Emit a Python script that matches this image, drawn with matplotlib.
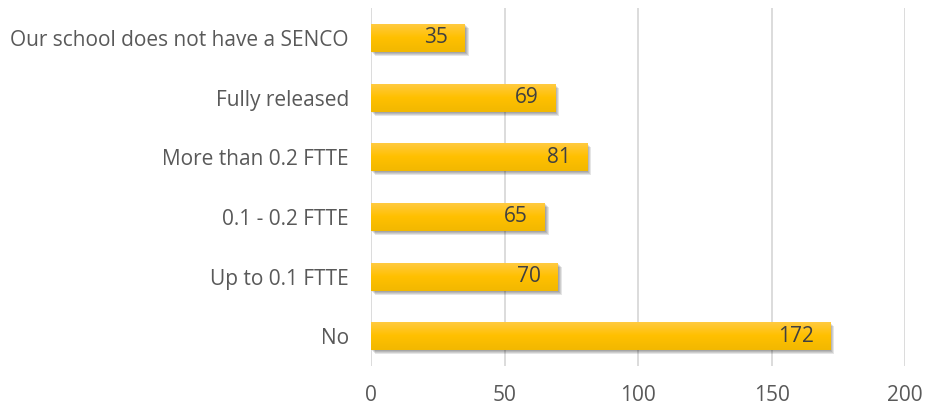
import matplotlib
matplotlib.use("Agg")
import matplotlib.pyplot as plt
import matplotlib.patheffects as pe
import numpy as np
from matplotlib.colors import LinearSegmentedColormap

categories = ["No", "Up to 0.1 FTTE", "0.1 - 0.2 FTTE", "More than 0.2 FTTE",
              "Fully released", "Our school does not have a SENCO"]
values = [172, 70, 65, 81, 69, 35]
xticks = [0, 50, 100, 150, 200]

plt.rcParams['font.family'] = ['Open Sans', 'DejaVu Sans']

fig = plt.figure(figsize=(9.29, 4.08), dpi=100)
ax = fig.add_axes([0.3994, 0.103, 0.5748, 0.877])

y = np.arange(len(categories))
shadows = [pe.SimplePatchShadow(offset=(o, -o), alpha=0.10, shadow_rgbFace="#000000")
           for o in (3.0, 2.2, 1.5, 0.8)]
bars = ax.barh(y, values, height=0.47, color="#FFC000", zorder=3,
               path_effects=shadows + [pe.Normal()])

cmap = LinearSegmentedColormap.from_list("g", ["#F2B800", "#FFC000", "#FFCB45"])
grad = np.linspace(0, 1, 64).reshape(-1, 1)
for b in bars:
    x0, y0, w, h = b.get_x(), b.get_y(), b.get_width(), b.get_height()
    im = ax.imshow(grad, cmap=cmap, aspect="auto", origin="lower",
                   extent=(x0, x0 + w, y0, y0 + h), zorder=4)
    im.set_clip_path(b)

for b, v in zip(bars, values):
    ax.annotate(str(v), (b.get_width(), b.get_y() + b.get_height() / 2),
                xytext=(-12, 0), textcoords="offset points", ha="right", va="center",
                fontsize=15, color="#404040", zorder=5)

ax.set_xlim(0, 200)
ax.set_ylim(-0.5, len(categories) - 0.5)
ax.set_xticks(xticks)
ax.set_yticks(y)
ax.set_yticklabels(categories)
ax.tick_params(axis="both", length=0, labelsize=15, colors="#595959")
ax.tick_params(axis="y", pad=16)
ax.tick_params(axis="x", pad=14)
ax.grid(axis="x", color="#D9D9D9", linewidth=1.3, zorder=0)
for s in ax.spines.values():
    s.set_visible(False)

fig.savefig("out.png", dpi=100)
